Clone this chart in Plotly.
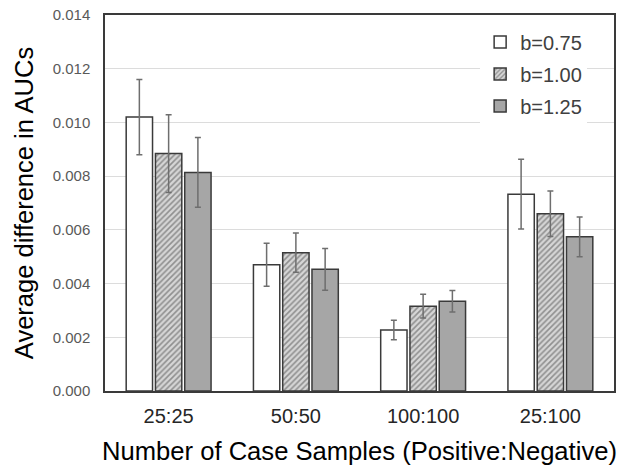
import plotly.graph_objects as go

categories = ["25:25", "50:50", "100:100", "25:100"]
series_names = ["b=0.75", "b=1.00", "b=1.25"]
values_075 = [0.0102, 0.0047, 0.00227, 0.00733]
errors_075 = [0.0014, 0.0008, 0.00036, 0.0013]
values_100 = [0.00884, 0.00515, 0.00316, 0.0066]
errors_100 = [0.00145, 0.00073, 0.00044, 0.00085]
values_125 = [0.00814, 0.00453, 0.00334, 0.00574]
errors_125 = [0.0013, 0.00078, 0.0004, 0.00074]
y_ticks = [0.0, 0.002, 0.004, 0.006, 0.008, 0.010, 0.012, 0.014]

fig = go.Figure()
edge = dict(color="#3a3a3a", width=1.5)
err_style = dict(type="data", color="#6e6e6e", thickness=1.5, width=3)

fig.add_trace(go.Bar(
    name=series_names[0], x=categories, y=values_075, legendgroup="a",
    error_y=dict(array=errors_075, **err_style),
    marker=dict(color="white", line=edge),
))
fig.add_trace(go.Bar(
    name=series_names[1], x=categories, y=values_100, legendgroup="b",
    error_y=dict(array=errors_100, **err_style),
    marker=dict(color="white", line=edge,
                pattern=dict(shape="/", fgcolor="#484848", bgcolor="#d6d6d6",
                             size=4, solidity=0.4)),
))
fig.add_trace(go.Bar(
    name=series_names[2], x=categories, y=values_125, legendgroup="c",
    error_y=dict(array=errors_125, **err_style),
    marker=dict(color="#a6a6a6", line=edge),
))

fig.update_layout(
    width=627, height=471,
    margin=dict(l=105, r=13, t=15, b=80),
    paper_bgcolor="white", plot_bgcolor="white",
    barmode="group", bargap=0.31, bargroupgap=0.1,
    font=dict(family="Liberation Sans, Arial, sans-serif"),
    legend=dict(x=0.737, y=0.98, xanchor="left", yanchor="top",
                bgcolor="white", font=dict(size=20, color="#404040"),
                itemwidth=30, traceorder="grouped", tracegroupgap=3),
    showlegend=True,
)
fig.update_xaxes(
    automargin=False,
    showline=True, linecolor="#3a3a3a", linewidth=1.5, mirror=True,
    tickfont=dict(size=20, color="#262626"), ticks="", ticklabelstandoff=6,
    title=dict(text="Number of Case Samples (Positive:Negative)",
               font=dict(size=25.6, color="black"), standoff=16),
)
fig.update_yaxes(
    automargin=False, ticklabeloverflow="allow",
    range=[0, 0.014], tickvals=y_ticks, tickformat=".3f",
    showline=True, linecolor="#3a3a3a", linewidth=1.5, mirror=True,
    showgrid=True, gridcolor="#dcdcdc", gridwidth=1.2, zeroline=False,
    tickfont=dict(size=15, color="#595959"), ticks="", ticklabelstandoff=10,
    title=dict(text="Average difference in AUCs",
               font=dict(size=25.5, color="black"), standoff=12),
)

fig.write_html("out.html", config={"displayModeBar": False},
               post_script="document.body.style.margin='0';")
